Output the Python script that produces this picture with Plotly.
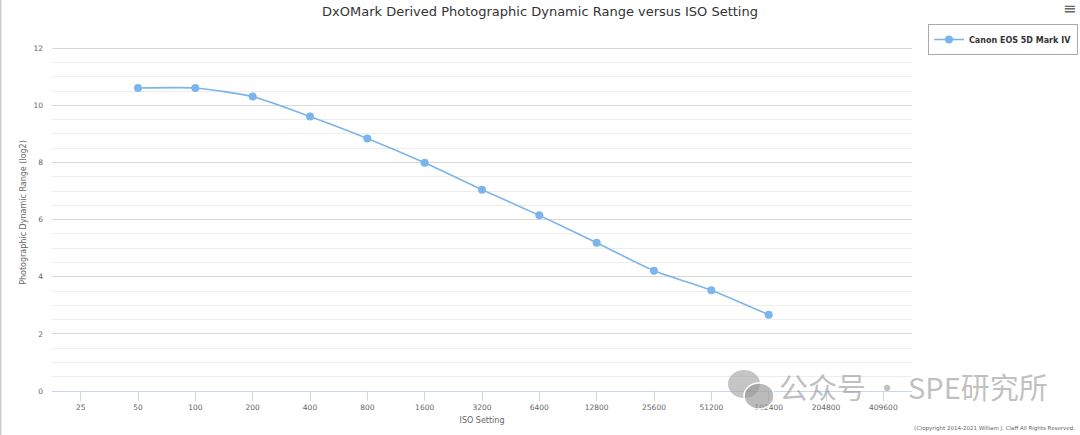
import plotly.graph_objects as go

iso_categories = ["25", "50", "100", "200", "400", "800", "1600", "3200", "6400",
                  "12800", "25600", "51200", "102400", "204800", "409600"]
series_iso = ["50", "100", "200", "400", "800", "1600", "3200", "6400",
              "12800", "25600", "51200", "102400"]
series_pdr = [10.61, 10.61, 10.31, 9.61, 8.84, 7.99, 7.05, 6.15, 5.19, 4.21, 3.53, 2.67]
series_name = "Canon EOS 5D Mark IV"

W, H = 1080, 435
ML, MR, MT, MB = 52, 168, 34, 44
PW, PH = W - ML - MR, H - MT - MB

def px_x(x):
    return (x - ML) / PW

def px_y(y):
    return (H - MB - y) / PH

FONT = "DejaVu Sans"
fig = go.Figure()
fig.add_trace(go.Scatter(
    x=series_iso, y=series_pdr, name=series_name,
    mode="lines+markers",
    line=dict(color="#7cb5ec", width=1.6, shape="spline", smoothing=0.55),
    marker=dict(color="#7cb5ec", size=8),
))

fig.update_layout(
    width=W, height=H,
    margin=dict(l=ML, r=MR, t=MT, b=MB, autoexpand=False),
    paper_bgcolor="white", plot_bgcolor="white",
    font=dict(family=FONT, color="#666666", size=8),
    title=dict(text="DxOMark Derived Photographic Dynamic Range versus ISO Setting",
               x=0.5, xref="container", y=1 - 11 / H, yanchor="middle",
               font=dict(family=FONT, size=13, color="#333333")),
    showlegend=True,
    legend=dict(x=px_x(1078), y=px_y(24), xanchor="right", yanchor="top",
                bordercolor="#aaaaaa", borderwidth=1, bgcolor="white",
                font=dict(family=FONT, size=8, color="#333333", weight="bold"),
                itemwidth=30, tracegroupgap=0),
    xaxis=dict(type="category", categoryorder="array", categoryarray=iso_categories,
               range=[-0.5, len(iso_categories) - 0.5],
               showgrid=False, zeroline=False,
               showline=True, linecolor="#ccd6eb", linewidth=1,
               ticks="outside", ticklen=9, tickcolor="#ccd6eb", tickwidth=1,
               tickfont=dict(family=FONT, size=7.5, color="#666666"),
               title=dict(text="ISO Setting", standoff=6,
                          font=dict(family=FONT, size=8, color="#666666"))),
    yaxis=dict(range=[0, 12.5], dtick=2, tick0=0,
               showgrid=True, gridcolor="#d8d8d8", gridwidth=1,
               zeroline=False, showline=False, ticks="",
               minor=dict(dtick=0.5, showgrid=True, gridcolor="#ededed", gridwidth=1),
               tickfont=dict(family=FONT, size=7.5, color="#666666"),
               ticklabelstandoff=8,
               title=dict(text="Photographic Dynamic Range (log2)", standoff=5,
                          font=dict(family=FONT, size=8, color="#666666"))),
)

# left page border
fig.add_shape(type="line", xref="paper", yref="paper",
              x0=px_x(0.5), x1=px_x(0.5), y0=px_y(0), y1=px_y(H),
              line=dict(color="#cccccc", width=2))

# hamburger menu icon
fig.add_annotation(text="≡", xref="paper", yref="paper", x=px_x(1069), y=px_y(8),
                   showarrow=False, font=dict(family=FONT, size=16, color="#666666"),
                   xanchor="center", yanchor="middle")

# copyright
fig.add_annotation(text="(C)opyright 2014-2021 William J. Claff All Rights Reserved.",
                   xref="paper", yref="paper", x=px_x(1077), y=px_y(428),
                   showarrow=False, xanchor="right", yanchor="middle",
                   font=dict(family=FONT, size=5.5, color="#666666"))

# watermark
fig.add_shape(type="circle", xref="paper", yref="paper",
              x0=px_x(728), x1=px_x(760), y0=px_y(370), y1=px_y(398),
              fillcolor="rgba(150,150,150,0.55)", line=dict(width=0))
fig.add_shape(type="circle", xref="paper", yref="paper",
              x0=px_x(744), x1=px_x(774), y0=px_y(383), y1=px_y(409),
              fillcolor="rgba(150,150,150,0.65)", line=dict(color="white", width=1.5))
fig.add_annotation(text="公众号 · SPE研究所", xref="paper", yref="paper",
                   x=px_x(777), y=px_y(386), showarrow=False,
                   xanchor="left", yanchor="middle",
                   font=dict(family="Noto Sans CJK SC", size=29, color="rgba(150,150,150,0.6)"))

fig.write_html("out.html")
